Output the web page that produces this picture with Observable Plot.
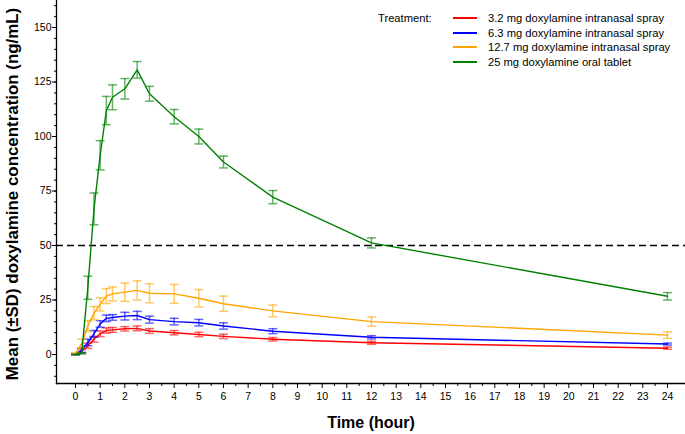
<!DOCTYPE html>
<html><head><meta charset="utf-8">
<script src="https://cdn.jsdelivr.net/npm/d3@7"></script>
<script src="https://cdn.jsdelivr.net/npm/@observablehq/plot@0.6"></script>
<style>
body{margin:0;background:#fff;font-family:"Liberation Sans",Arial,sans-serif;}
#wrap{position:relative;width:685px;height:434px;}
#legend{position:absolute;left:378px;top:11px;font-size:11.2px;color:#000;display:grid;grid-template-columns:64px 24px auto;column-gap:11px;grid-auto-rows:14.6px;align-items:center;white-space:nowrap;}
#legend .sw{height:2px;}
</style></head><body><div id="wrap"><div id="legend"></div></div>
<script>
const times = [0, 0.25, 0.5, 0.75, 1, 1.25, 1.5, 2, 2.5, 3, 4, 5, 6, 8, 12, 24];
const treatments = [
  "3.2 mg doxylamine intranasal spray",
  "6.3 mg doxylamine intranasal spray",
  "12.7 mg doxylamine intranasal spray",
  "25 mg doxylamine oral tablet"
];
const colors = ["#ff0000", "#0000ff", "#ffa500", "#008000"];
const mean32 = [0, 1.5, 4, 7, 9.5, 11, 11.3, 11.8, 12, 10.8, 10, 9.2, 8.3, 7, 5.4, 2.9];
const sd32   = [0, 0.8, 1.2, 1.3, 1.3, 1.2, 1.1, 1.0, 1.1, 1.1, 1.0, 1.0, 1.0, 0.8, 0.7, 0.5];
const mean63 = [0, 2, 5.5, 9.5, 14, 16.6, 17, 17.6, 17.9, 16, 15.1, 14.6, 13.1, 10.7, 7.9, 4.8];
const sd63   = [0, 1, 1.5, 1.5, 1.5, 1.5, 1.3, 1.75, 1.9, 1.6, 1.5, 1.5, 1.45, 1.15, 0.75, 0.45];
const mean127 = [0.5, 5, 13, 19, 23, 26.8, 27.8, 28.6, 29.4, 28.1, 27.8, 25.8, 23.3, 20, 15.1, 8.9];
const sd127   = [0.3, 2, 2.5, 3, 3, 3.4, 3.2, 4.2, 4.4, 4.4, 4.3, 4.0, 3.5, 2.7, 2.1, 1.5];
const mean25 = [0, 0.5, 30.6, 66.8, 91.4, 111.9, 118, 121.9, 130.6, 119.6, 109.1, 100, 88.3, 72.2, 51.2, 26.7];
const sd25   = [0, 0.3, 5.3, 7.3, 6.7, 6.5, 5.7, 4.7, 3.8, 3.4, 3.3, 3.4, 2.7, 3.0, 2.3, 1.7];
const xTicks = d3.range(0, 25, 1);
const xMinorTicks = d3.range(0.5, 24, 1);
const yTicks = [0, 25, 50, 75, 100, 125, 150];
const yMinorTicks = d3.range(-10, 161, 5);
const threshold = [50];
const xLabel = "Time (hour)";
const yLabel = "Mean (±SD) doxylamine concentration (ng/mL)";
const legendTitle = "Treatment:";

const means = [mean32, mean63, mean127, mean25];
const sds = [sd32, sd63, sd127, sd25];
const data = [];
treatments.forEach((tr, i) => {
  times.forEach((t, j) => {
    data.push({treatment: tr, t, mean: means[i][j], lo: means[i][j] - sds[i][j], hi: means[i][j] + sds[i][j]});
  });
});

const cap = {draw(ctx, size) { const w = Math.sqrt(size / Math.PI); ctx.moveTo(-w, 0); ctx.lineTo(w, 0); }};

const colorScale = {domain: treatments, range: colors};
const marks = [];
treatments.forEach((tr) => {
  const d = data.filter(r => r.treatment === tr);
  marks.push(Plot.ruleX(d, {x: "t", y1: "lo", y2: "hi", stroke: "treatment", strokeOpacity: 0.6, strokeWidth: 1.5}));
  marks.push(Plot.dot(d, {x: "t", y: "lo", symbol: cap, r: 4.5, stroke: "treatment", strokeOpacity: 0.6, strokeWidth: 1.5, fill: "none"}));
  marks.push(Plot.dot(d, {x: "t", y: "hi", symbol: cap, r: 4.5, stroke: "treatment", strokeOpacity: 0.6, strokeWidth: 1.5, fill: "none"}));
  marks.push(Plot.line(d, {x: "t", y: "mean", stroke: "treatment", strokeWidth: 1.4}));
});

const chart = Plot.plot({
  width: 685, height: 434,
  marginLeft: 56, marginRight: 0, marginTop: 0, marginBottom: 51,
  style: {fontFamily: "'Liberation Sans', Arial, sans-serif", color: "#000", background: "#fff"},
  x: {domain: [-0.77, 24.73]},
  y: {domain: [-13.3, 162.4]},
  color: colorScale,
  marks: [
    Plot.ruleY(threshold, {stroke: "#000", strokeWidth: 1.3, strokeDasharray: "7,4"}),
    ...marks,
    Plot.frame({anchor: "left", strokeWidth: 1.3}),
    Plot.frame({anchor: "bottom", strokeWidth: 1.3}),
    Plot.axisX({ticks: xTicks, tickSize: 5, tickPadding: 4, fontSize: 10.5, label: null}),
    Plot.axisX({ticks: xMinorTicks, tickSize: 3, tickFormat: () => "", label: null}),
    Plot.axisY({ticks: yTicks, tickSize: 4, tickPadding: 1, fontSize: 10.5, label: null}),
    Plot.axisY({ticks: yMinorTicks, tickSize: 2, tickFormat: () => "", label: null}),
    Plot.text([xLabel], {frameAnchor: "bottom", dy: 39, text: d => d, fontSize: 16, fontWeight: "bold", lineAnchor: "middle"}),
    Plot.text([yLabel], {frameAnchor: "left", dx: -44, dy: 2, rotate: -90, text: d => d, fontSize: 16.9, fontWeight: "bold", textAnchor: "middle", lineAnchor: "middle"})
  ]
});
document.getElementById("wrap").prepend(chart);

const legend = document.getElementById("legend");
treatments.forEach((tr, i) => {
  const a = document.createElement("div"); a.textContent = i === 0 ? legendTitle : "";
  const b = document.createElement("div"); b.className = "sw"; b.style.background = colors[i];
  const c = document.createElement("div"); c.textContent = tr;
  legend.append(a, b, c);
});
</script>
</body></html>
